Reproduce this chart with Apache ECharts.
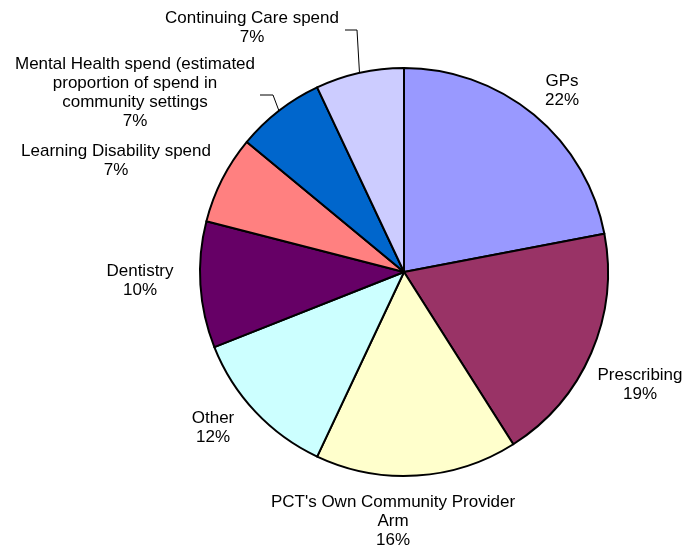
<!DOCTYPE html>
<html>
<head>
<meta charset="utf-8">
<script src="https://cdn.jsdelivr.net/npm/echarts@6/dist/echarts.min.js"></script>
<style>
  html, body { margin: 0; padding: 0; background: #fff; }
  #chart { width: 685px; height: 548px; }
</style>
</head>
<body>
<div id="chart"></div>
<script>
// Spending categories, clockwise from 12 o'clock
const categories = [
  'GPs',
  'Prescribing',
  "PCT's Own Community Provider\nArm",
  'Other',
  'Dentistry',
  'Learning Disability spend',
  'Mental Health spend (estimated\nproportion of spend in\ncommunity settings',
  'Continuing Care spend'
];
// Share of spend, percent
const shares = [22, 19, 16, 12, 10, 7, 7, 7];
const sliceColors = ['#9999FF', '#993366', '#FFFFCC', '#CCFFFF', '#660066', '#FF8080', '#0066CC', '#CCCCFF'];

// Where each label block is centred
const labelCentres = [
  [562, 91], [640, 385], [393, 521], [213, 428],
  [140, 281], [116, 161], [135, 93], [252, 28]
];
// Elbow points of the leader lines (after the point on the rim)
const leaderElbows = {
  6: [[273, 95], [260, 95]],
  7: [[357, 30], [345, 30]]
};

const chart = echarts.init(document.getElementById('chart'), null, { renderer: 'canvas' });

chart.setOption({
  backgroundColor: '#ffffff',
  animation: false,
  series: [{
    type: 'pie',
    center: [404, 272],
    radius: 204,
    startAngle: 90,
    clockwise: true,
    avoidLabelOverlap: false,
    itemStyle: { borderColor: '#000', borderWidth: 2 },
    emphasis: { disabled: true },
    label: {
      show: true,
      position: 'outside',
      formatter: '{b}\n{c}%',
      fontFamily: 'Liberation Sans, Arial, sans-serif',
      fontSize: 17,
      lineHeight: 19,
      color: '#000',
      align: 'center'
    },
    labelLine: { show: false, lineStyle: { color: '#000', width: 1 } },
    labelLayout: function (params) {
      const i = params.dataIndex;
      const c = labelCentres[i];
      const out = { x: c[0], y: c[1], align: 'center', verticalAlign: 'middle' };
      if (leaderElbows[i] && params.labelLinePoints) {
        out.labelLinePoints = [params.labelLinePoints[0]].concat(leaderElbows[i]);
      }
      return out;
    },
    data: categories.map((name, i) => ({
      name: name,
      value: shares[i],
      itemStyle: { color: sliceColors[i] },
      labelLine: { show: leaderElbows[i] !== undefined, length: 10, length2: 10 }
    }))
  }]
});
</script>
</body>
</html>
